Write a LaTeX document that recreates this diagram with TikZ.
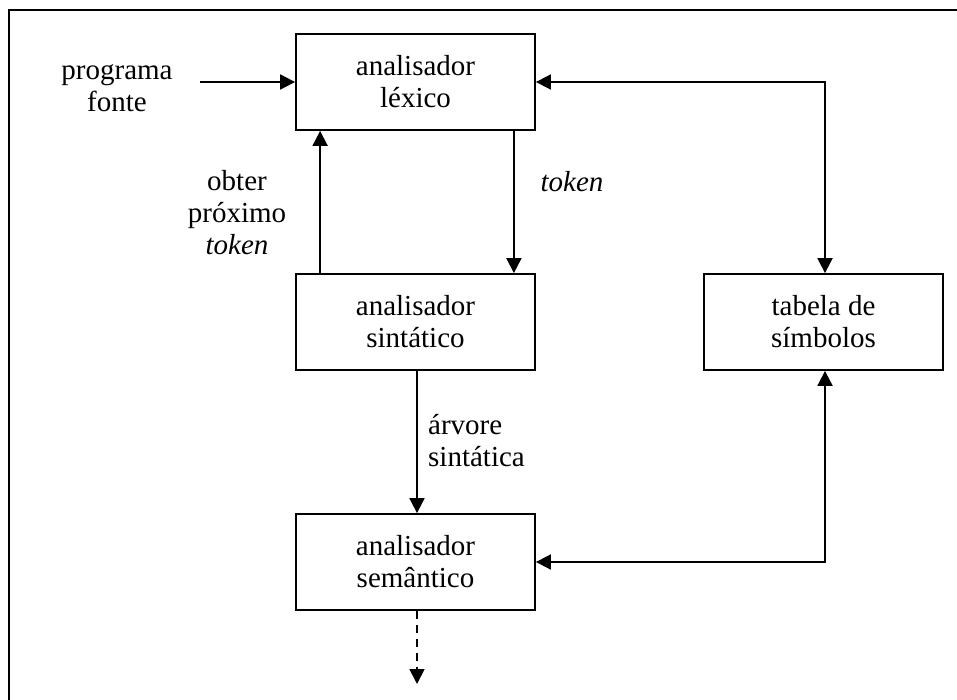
\documentclass[tikz,border=0pt]{standalone}
\usepackage{fontspec}
\setmainfont{Liberation Serif}
\usetikzlibrary{arrows.meta,calc}

\tikzset{
  stage/.style={draw, line width=1.8pt, minimum width=239pt, minimum height=96pt,
                align=center, inner sep=0pt},
  label/.style={inner sep=0pt, align=center},
  flow/.style={line width=1.8pt, -{Triangle[length=15pt,width=15pt]}},
  twoway/.style={line width=1.8pt, {Triangle[length=15pt,width=15pt]}-{Triangle[length=15pt,width=15pt]}},
  frame/.style={line width=2pt}
}

\begin{document}
\begin{tikzpicture}[x=1pt,y=-1pt,font=\fontsize{29}{32}\selectfont]
\useasboundingbox (0,0) rectangle (957,700);

% outer frame (open to the right and bottom)
\draw[frame] (9,700) -- (9,10) -- (957,10);

% compiler stages
\node[stage] (lex) at (415.5,82)  {analisador\\léxico};
\node[stage] (sin) at (415.5,322) {analisador\\sintático};
\node[stage] (sem) at (415.5,562) {analisador\\semântico};
\node[stage] (tab) at (823.5,322) {tabela de\\símbolos};

% input
\node[label] (src) at (117,88) {programa\\fonte};
\coordinate (srcend) at (200,82);
\draw[flow] (srcend) -- (lex.west);

% parser <-> scanner
\draw[flow] ($(sin.north west)+(25,0)$) -- ($(lex.south west)+(25,0)$);
\draw[flow] ($(lex.south east)+(-22,0)$) -- ($(sin.north east)+(-22,0)$);
\node[label] (next) at (237,213) {obter\\próximo\\\textit{token}};
\node[label] (tok) at (572,182) {\textit{token}};

% parser -> semantic analysis
\draw[flow] ([xshift=1.5pt]sin.south) -- ([xshift=1.5pt]sem.north);
\node[label, align=left, anchor=west] (tree) at (428,441) {árvore\\sintática};

% symbol table links
\draw[twoway] (lex.east) -| ([xshift=1.5pt]tab.north);
\draw[twoway] (sem.east) -| ([xshift=1.5pt]tab.south);

% output
\coordinate (out) at (417,684);
\draw[flow, dashed, dash pattern=on 8pt off 6pt] ([xshift=1.5pt]sem.south) -- (out);
\end{tikzpicture}
\end{document}
